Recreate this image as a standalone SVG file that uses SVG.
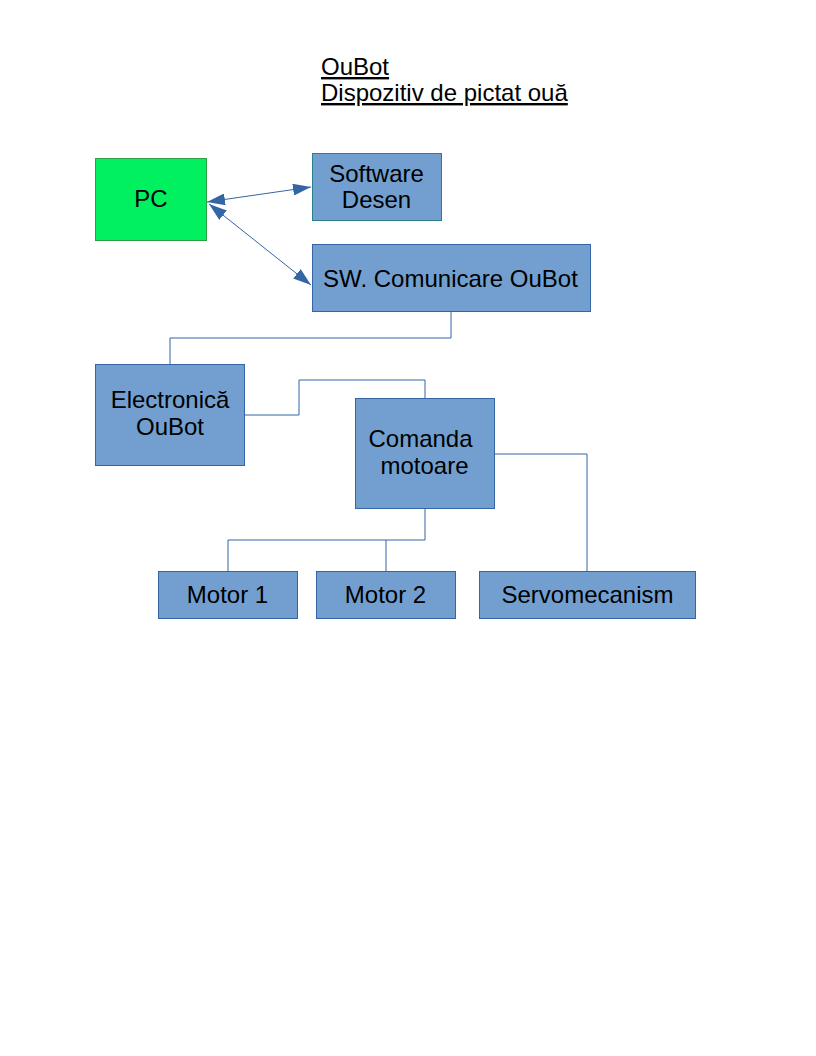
<svg xmlns="http://www.w3.org/2000/svg" width="816" height="1056" viewBox="0 0 816 1056">
<style>
.box{fill:#729fcf;stroke:#3465a4;stroke-width:1}
.pc{fill:#00f060;stroke:#2e9e44;stroke-width:1}
.t{font-family:"Liberation Sans",Arial,sans-serif;font-size:24px;fill:#000;text-anchor:middle}
.title{font-family:"Liberation Sans",Arial,sans-serif;font-size:24px;fill:#000;text-decoration:underline}
.c{fill:none;stroke:#3465a4;stroke-width:1}
</style>
<defs>
<marker id="ah" viewBox="0 0 18 12" refX="18" refY="6" markerWidth="18" markerHeight="12" markerUnits="userSpaceOnUse" orient="auto-start-reverse">
<path d="M0,0 L18,6 L0,12 Z" fill="#3465a4"/>
</marker>
</defs>
<rect width="816" height="1056" fill="#fff"/>
<g id="title">
<text class="title" x="321" y="75">OuBot</text>
<text class="title" x="321" y="101">Dispozitiv de pictat ouă</text>
</g>
<g id="connectors">
<line class="c" x1="207" y1="202" x2="311" y2="187" marker-start="url(#ah)" marker-end="url(#ah)"/>
<line class="c" x1="209" y1="204" x2="311" y2="285" marker-start="url(#ah)" marker-end="url(#ah)"/>
<polyline class="c" points="451,311 451,338 170,338 170,364"/>
<polyline class="c" points="244,415 299,415 299,380 425,380 425,398"/>
<polyline class="c" points="425,508 425,540 228,540 228,571"/>
<polyline class="c" points="386,540 386,571"/>
<polyline class="c" points="494,454 587,454 587,571"/>
</g>
<g id="pc">
<rect class="pc" x="95.5" y="158.5" width="111" height="82"/>
<text class="t" x="151" y="207">PC</text>
</g>
<g id="software">
<rect class="box" x="312.5" y="153.5" width="129" height="67" style="stroke:#2a7f8f"/>
<text class="t" x="376.5" y="182">Software</text>
<text class="t" x="376.5" y="208">Desen</text>
</g>
<g id="swcom">
<rect class="box" x="312.5" y="244.5" width="278" height="67"/>
<text class="t" x="450.5" y="287">SW. Comunicare OuBot</text>
</g>
<g id="electronica">
<rect class="box" x="95.5" y="364.5" width="149" height="101"/>
<text class="t" x="170" y="408">Electronică</text>
<text class="t" x="170" y="435">OuBot</text>
</g>
<g id="comanda">
<rect class="box" x="355.5" y="398.5" width="139" height="110"/>
<text class="t" x="420.5" y="447">Comanda</text>
<text class="t" x="424.5" y="474">motoare</text>
</g>
<g id="motor1">
<rect class="box" x="158.5" y="571.5" width="139" height="47"/>
<text class="t" x="227.5" y="603">Motor 1</text>
</g>
<g id="motor2">
<rect class="box" x="316.5" y="571.5" width="139" height="47"/>
<text class="t" x="385.5" y="603">Motor 2</text>
</g>
<g id="servo">
<rect class="box" x="479.5" y="571.5" width="216" height="47"/>
<text class="t" x="587.5" y="603">Servomecanism</text>
</g>
</svg>
